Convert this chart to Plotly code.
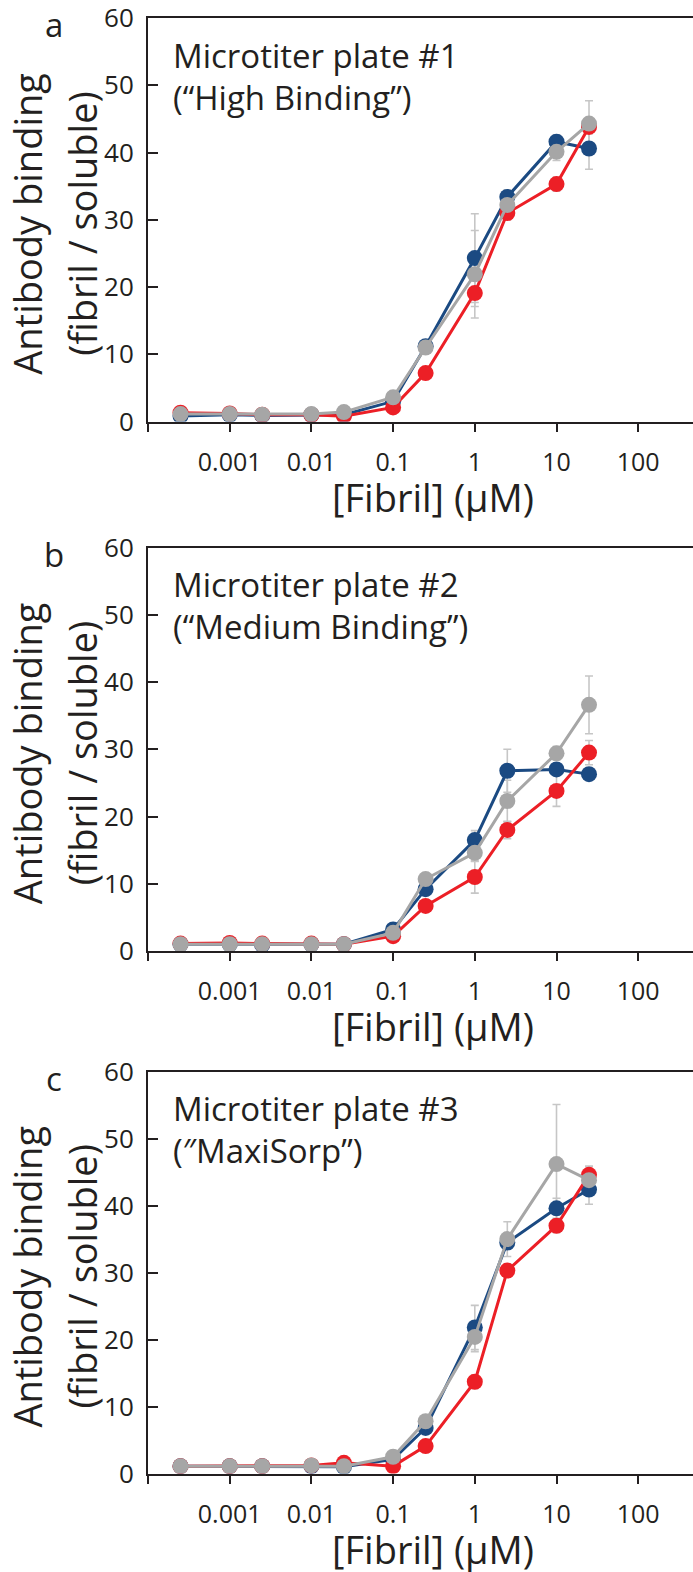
import plotly.graph_objects as go

# ---------------- data ----------------
fibril_uM = [0.00025, 0.001, 0.0025, 0.01, 0.025, 0.1, 0.25, 1, 2.5, 10, 25]

# panel a - Microtiter plate #1 ("High Binding")
blue_a = [0.8, 1.0, 0.9, 1.0, 1.0, 3.0, 11.2, 24.3, 33.4, 41.6, 40.6]
red_a = [1.3, 1.2, 1.0, 1.0, 0.8, 2.1, 7.2, 19.1, 31.0, 35.3, 43.8]
grey_a = [1.1, 1.1, 1.0, 1.1, 1.4, 3.6, 11.0, 21.9, 32.2, 40.1, 44.3]
blue_a_err = [0.2, 0.2, 0.2, 0.2, 0.2, 0.4, 0.6, 6.6, 1.0, 1.0, 3.1]
red_a_err = [0.2, 0.2, 0.2, 0.2, 0.2, 0.3, 0.6, 2.0, 1.0, 1.0, 1.0]
grey_a_err = [0.2, 0.2, 0.2, 0.2, 0.2, 0.4, 0.6, 6.5, 1.0, 1.3, 3.4]

# panel b - Microtiter plate #2 ("Medium Binding")
blue_b = [1.0, 1.0, 0.9, 1.0, 1.0, 3.2, 9.2, 16.5, 26.8, 27.0, 26.3]
red_b = [1.1, 1.2, 1.1, 1.1, 1.0, 2.2, 6.7, 11.0, 18.0, 23.8, 29.5]
grey_b = [1.0, 1.0, 1.0, 1.0, 1.0, 2.7, 10.7, 14.6, 22.3, 29.4, 36.6]
blue_b_err = [0.2, 0.2, 0.2, 0.2, 0.2, 0.4, 0.6, 1.4, 3.2, 0.7, 0.8]
red_b_err = [0.2, 0.2, 0.2, 0.2, 0.2, 0.3, 0.6, 2.4, 1.3, 2.3, 1.8]
grey_b_err = [0.2, 0.2, 0.2, 0.2, 0.2, 0.4, 0.6, 1.3, 3.1, 1.0, 4.3]

# panel c - Microtiter plate #3 ("MaxiSorp")
blue_c = [1.1, 1.1, 1.1, 1.1, 1.0, 2.1, 6.8, 21.8, 34.5, 39.6, 42.4]
red_c = [1.1, 1.1, 1.1, 1.2, 1.6, 1.1, 4.1, 13.7, 30.3, 37.0, 44.6]
grey_c = [1.1, 1.1, 1.1, 1.2, 1.1, 2.5, 7.8, 20.4, 35.0, 46.2, 43.8]
blue_c_err = [0.2, 0.2, 0.2, 0.2, 0.2, 0.4, 0.6, 3.3, 1.0, 1.5, 2.2]
red_c_err = [0.2, 0.2, 0.2, 0.2, 0.2, 0.3, 0.6, 1.0, 1.0, 1.0, 1.3]
grey_c_err = [0.2, 0.2, 0.2, 0.2, 0.2, 0.4, 0.6, 2.2, 2.6, 8.9, 1.0]

panel_letters = ["a", "b", "c"]
plate_line1 = ["Microtiter plate #1", "Microtiter plate #2", "Microtiter plate #3"]
plate_line2 = ["(\u201cHigh Binding\u201d)", "(\u201cMedium Binding\u201d)", "(\u2033MaxiSorp\u201d)"]
y_title_line1 = "Antibody binding"
y_title_line2 = "(fibril / soluble)"
x_title = "[Fibril] (\u03bcM)"
x_tickvals = [0.0001, 0.001, 0.01, 0.1, 1, 10, 100, 1000]
x_ticktext = ["", "0.001", "0.01", "0.1", "1", "10", "100", ""]
y_tickvals = [0, 10, 20, 30, 40, 50, 60]

# ---------------- style ----------------
W, H = 693, 1572
FONT = "Open Sans"
INK = "#231f20"
BLUE = "#1b4a82"
RED = "#ec1f26"
GREY = "#a6a6a6"
ERR = "#c6c6c6"

# pixel geometry of the three plot areas (top, bottom)
panels_px = [(18.0, 421.5), (547.5, 951.0), (1071.7, 1473.5)]
x_left_px = 148.0


def py(p):
    return 1 - p / H


def px(p):
    return p / W


fig = go.Figure()

series = [
    (blue_a, red_a, grey_a, blue_a_err, red_a_err, grey_a_err),
    (blue_b, red_b, grey_b, blue_b_err, red_b_err, grey_b_err),
    (blue_c, red_c, grey_c, blue_c_err, red_c_err, grey_c_err),
]

annotations = []
for i, (b, r, g, be, re_, ge) in enumerate(series):
    xa = "x" if i == 0 else f"x{i+1}"
    ya = "y" if i == 0 else f"y{i+1}"
    # error bars below everything
    for vals, errs in ((b, be), (r, re_), (g, ge)):
        fig.add_trace(go.Scatter(
            x=fibril_uM, y=vals, mode="markers", xaxis=xa, yaxis=ya,
            marker=dict(size=1, opacity=0),
            error_y=dict(type="data", array=errs, visible=True, color=ERR,
                         thickness=1.6, width=4),
            showlegend=False, hoverinfo="skip"))
    for vals, col in ((b, BLUE), (r, RED), (g, GREY)):
        fig.add_trace(go.Scatter(
            x=fibril_uM, y=vals, mode="lines+markers", xaxis=xa, yaxis=ya,
            line=dict(color=col, width=3),
            marker=dict(color=col, size=16),
            showlegend=False))

    top, bot = panels_px[i]
    xkey = "xaxis" if i == 0 else f"xaxis{i+1}"
    ykey = "yaxis" if i == 0 else f"yaxis{i+1}"
    fig.update_layout(**{
        xkey: dict(
            type="log", range=[-4, -4 + (W - x_left_px) / 81.7],
            domain=[px(x_left_px), 1], anchor=ya,
            tickvals=x_tickvals, ticktext=x_ticktext,
            ticks="outside", ticklen=8, tickwidth=2, tickcolor=INK,
            showline=True, linewidth=2, linecolor=INK, mirror=True,
            showgrid=False, zeroline=False,
            tickfont=dict(family=FONT, size=25, color=INK),
            ticklabelstandoff=9,
        ),
        ykey: dict(
            range=[0, 60], domain=[py(bot), py(top)], anchor=xa,
            tickvals=y_tickvals,
            ticks="inside", ticklen=10, tickwidth=2, tickcolor=INK,
            showline=True, linewidth=2, linecolor=INK,
            showgrid=False, zeroline=False,
            tickfont=dict(family=FONT, size=26, color=INK),
            ticklabelstandoff=7, ticklabeloverflow="allow",
        ),
    })

    # panel letter (box top aligned just above the panel top)
    annotations.append(dict(
        text=panel_letters[i], x=px(54), y=py(max(top - 18, 0)), xref="paper", yref="paper",
        xanchor="center", yanchor="top", showarrow=False,
        font=dict(family=FONT, size=33, color=INK)))
    # plate label (two lines)
    annotations.append(dict(
        text=plate_line1[i], x=px(171), y=py(top + 50 - 12.8), xref="paper", yref="paper",
        xanchor="left", yanchor="middle", showarrow=False,
        font=dict(family=FONT, size=33, color=INK)))
    annotations.append(dict(
        text=plate_line2[i], x=px(171), y=py(top + 92 - 12.8), xref="paper", yref="paper",
        xanchor="left", yanchor="middle", showarrow=False,
        font=dict(family=FONT, size=33, color=INK)))
    # y title (two rotated lines)
    ymid = (top + bot) / 2 + 4
    annotations.append(dict(
        text=y_title_line1, x=px(27), y=py(ymid), xref="paper", yref="paper",
        xanchor="center", yanchor="middle", textangle=-90, showarrow=False,
        font=dict(family=FONT, size=38, color=INK)))
    annotations.append(dict(
        text=y_title_line2, x=px(82), y=py(ymid), xref="paper", yref="paper",
        xanchor="center", yanchor="middle", textangle=-90, showarrow=False,
        font=dict(family=FONT, size=38, color=INK)))
    # x title
    annotations.append(dict(
        text=x_title, x=px(433), y=py(bot + 75), xref="paper", yref="paper",
        xanchor="center", yanchor="middle", showarrow=False,
        font=dict(family=FONT, size=38, color=INK)))

fig.update_layout(
    width=W, height=H,
    margin=dict(l=0, r=0, t=0, b=0, autoexpand=False),
    paper_bgcolor="white", plot_bgcolor="white",
    annotations=annotations,
    showlegend=False,
)

fig.write_html("out.html", config={"displayModeBar": False},
               post_script="document.body.style.margin='0';")
